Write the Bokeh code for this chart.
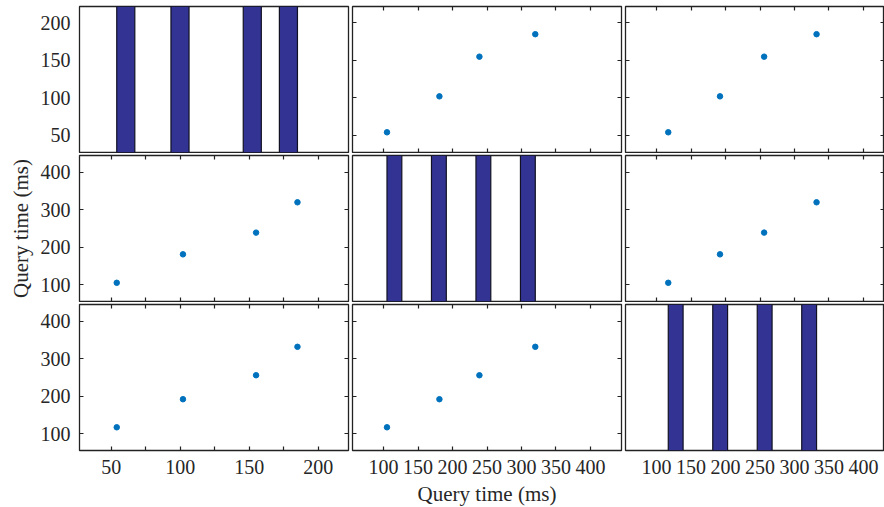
import numpy as np
from bokeh.plotting import figure
from bokeh.layouts import gridplot
from bokeh.models import Range1d, LinearAxis, FixedTicker, CustomJSTickFormatter
from bokeh.embed import file_html
from bokeh.resources import INLINE

# ---- data ----
a_vals = [54, 102, 155, 185]
b_vals = [105, 181, 239, 320]
c_vals = [117, 192, 256, 332]
variables = [a_vals, b_vals, c_vals]
axis_title = "Query time (ms)"
n_bins = 10

# axis limits per variable
var_ranges = [(27, 222), (55, 445), (55, 445)]
# horizontal ticks (major labelled, minor unlabelled) per variable
x_major = [[50, 100, 150, 200], [100, 150, 200, 250, 300, 350, 400], [100, 150, 200, 250, 300, 350, 400]]
x_minor = [[75, 125, 175], [], []]
# vertical ticks per variable
y_major = [[50, 100, 150, 200], [100, 200, 300, 400], [100, 200, 300, 400]]

# ---- styling ----
FONT = "Liberation Serif"
TXT = "#262626"
DOT = "#0072BD"
BAR = "#333393"
BAR_EDGE = "#111122"

frame_w = [269, 269, 259]
frame_h = [146, 146, 146]
border_l = [79, 2, 2]
border_r = [2, 2, 0]
border_t = [6, 2, 2]
border_b = [1, 1, 57]
col3_visible = 259 / 269.0


def x_range_for(j):
    lo, hi = var_ranges[j]
    if j == 2:
        hi = lo + (hi - lo) * col3_visible
    return Range1d(lo, hi)


def make_axis(ticks, minor, labels, marks):
    ax = LinearAxis(ticker=FixedTicker(ticks=ticks, minor_ticks=minor))
    ax.axis_line_color = None
    ax.major_tick_out = 0
    ax.minor_tick_out = 0
    ax.major_tick_in = 4 if marks else 0
    ax.minor_tick_in = 4 if marks else 0
    ax.major_tick_line_color = "#222222" if marks else None
    ax.minor_tick_line_color = "#222222" if marks else None
    ax.major_tick_line_width = 1.2
    ax.minor_tick_line_width = 1.2
    if labels:
        ax.major_label_text_font = FONT
        ax.major_label_text_font_size = "20px"
        ax.major_label_text_color = TXT
        ax.major_label_standoff = 9
    else:
        ax.formatter = CustomJSTickFormatter(code="return ''")
        ax.major_label_text_font_size = "0px"
        ax.major_label_standoff = 0
    ax.axis_label_text_font = FONT
    ax.axis_label_text_font_size = "21px"
    ax.axis_label_text_font_style = "normal"
    ax.axis_label_text_color = TXT
    return ax


rows = []
for i in range(3):
    row = []
    for j in range(3):
        p = figure(
            frame_width=frame_w[j], frame_height=frame_h[i],
            x_range=x_range_for(j), y_range=Range1d(*var_ranges[i]),
            x_axis_location=None, y_axis_location=None,
            toolbar_location=None, output_backend="svg",
            min_border_left=border_l[j], min_border_right=border_r[j],
            min_border_top=border_t[i], min_border_bottom=border_b[i],
        )
        p.xgrid.visible = False
        p.ygrid.visible = False
        p.outline_line_color = "#222222"
        p.outline_line_width = 1.3
        p.background_fill_color = "white"
        p.border_fill_color = "white"
        is_hist = (i == j)
        marks = not is_hist

        left = make_axis(y_major[i], [], j == 0, marks)
        right = make_axis(y_major[i], [], False, marks)
        top = make_axis(x_major[j], x_minor[j], False, marks)
        bottom = make_axis(x_major[j], x_minor[j], i == 2, marks)
        if i == 1 and j == 0:
            left.axis_label = axis_title
            left.axis_label_standoff = 5
        if i == 2 and j == 1:
            bottom.axis_label = axis_title
            bottom.axis_label_standoff = 5
        p.add_layout(left, "left")
        p.add_layout(right, "right")
        p.add_layout(top, "above")
        p.add_layout(bottom, "below")

        if is_hist:
            counts, edges = np.histogram(variables[j], bins=n_bins)
            keep = counts > 0
            p.extra_y_ranges = {"cnt": Range1d(0, int(counts.max()))}
            p.quad(left=edges[:-1][keep], right=edges[1:][keep],
                   bottom=0, top=counts[keep], y_range_name="cnt",
                   fill_color=BAR, line_color=BAR_EDGE, line_width=1.2)
        else:
            p.scatter(variables[j], variables[i], size=5.5,
                      fill_color=DOT, line_color=DOT)
        row.append(p)
    rows.append(row)

grid = gridplot(rows, toolbar_location=None)

open("out.html", "w").write(file_html(grid, INLINE))
